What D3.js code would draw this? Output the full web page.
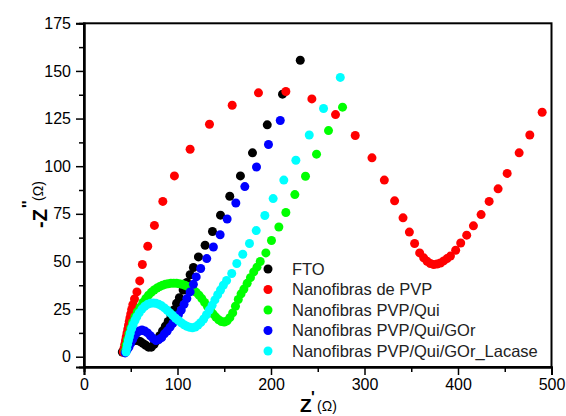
<!DOCTYPE html>
<html><head><meta charset="utf-8">
<script src="https://cdn.jsdelivr.net/npm/d3@7"></script>
<style>body{margin:0;background:#fff}svg{display:block}text{font-family:"Liberation Sans",Arial,sans-serif}</style>
</head><body><svg id="c" width="566" height="416"></svg>
<script>
const seriesNames=["FTO","Nanofibras de PVP","Nanofibras PVP/Qui","Nanofibras PVP/Qui/GOr","Nanofibras PVP/Qui/GOr_Lacase"];
const seriesColors=["#000000","#ff0000","#00ff00","#0000ff","#00ffff"];
const xTicks=[0,100,200,300,400,500];
const yTicks=[0,25,50,75,100,125,150,175];
const fto=[[41,2.5],[43,4],[45,5.5],[48,7],[51,8],[54,8.5],[57,8.5],[60,8],[63,7],[66,6],[69,5],[72,5],[75,6.5],[78,8.5],[81,11],[84,13.5],[87,16],[90,18.5],[93,21.5],[96,24.5],[99,28],[102,31],[106,35],[110,39],[113.5,43],[117,46.8],[122.4,52.4],[129.5,58.5],[137.4,65.7],[146,74.3],[155.9,84.2],[167.3,94.9],[180.2,107],[196,121.7],[212.3,137.8],[231.3,155.6]];
const pvp=[[42,2.5],[42.8,4.5],[43.6,6.5],[44.4,8.5],[45.2,10.5],[46,12.5],[46.8,14.5],[47.6,16.5],[48.4,18.5],[49.2,20.5],[50,22.5],[51,24.8],[52.2,27.3],[54,30.3],[56.6,34],[59.6,39.8],[62.4,48.4],[68.2,58],[75.3,68.9],[84.3,81.5],[96.7,94.9],[113.5,108.9],[134.2,122],[158.5,132],[186.6,138.5],[215.9,139.2],[243.7,135.3],[269,127.1],[290.1,116.1],[308,104.4],[321.2,92.7],[332.2,81.8],[341.2,72.9],[348,65.4],[353.6,59.4],[359,54.5],[363.3,51.9],[366.9,50.1],[370.4,48.9],[374,48.4],[377.6,48.6],[381.2,49.2],[384.7,50.3],[388.3,51.5],[391.9,52.8],[397.5,55.9],[402.9,59.7],[409.3,63.8],[416.5,68.7],[424.7,74.6],[433.3,81.5],[442.9,88.1],[452.6,96.2],[465.4,107],[476.8,116.4],[490,128.3]];
const qui=[[44,3],[45,6],[46.5,9],[48,12],[50,15],[52,18],[54.5,21],[57,23.5],[60,26],[63,28.5],[66,30.5],[69,32.3],[72,33.8],[75,35],[78,36],[81,36.8],[84,37.5],[87,38],[90,38.3],[93,38.5],[96,38.6],[99,38.5],[102,38.3],[105,38],[108,37.5],[111,36.8],[114,36],[117,35],[120,33.8],[123,32.3],[126,30.5],[129,28.5],[132,26.5],[135,24.5],[138,22.5],[141,20.8],[144,19.4],[147,18.5],[150,18.2],[153,18.8],[156,20.5],[159,23],[162,26.5],[165,30],[168,33],[171,35.5],[174.5,38.5],[178,41.5],[181.5,44.5],[185,47],[188.5,50],[194.5,54.5],[200.5,61],[208.4,68.1],[215.9,75.7],[225.5,85.1],[236.9,94.7],[248.7,106.3],[261.5,118.7],[276.5,131]];
const gor=[[44,2],[46,3.5],[48,5],[50,7],[52,9],[54,11],[56.5,12.5],[59,13.5],[62,14],[65,13.5],[68,12.5],[71,11],[74,9.5],[77,8.5],[80,9],[83,10],[86,12],[89,13.5],[92,15.5],[95,17.5],[98,19.5],[101,22],[104,24.5],[107,27.5],[110,30.5],[113.5,34],[117,38],[120,41.9],[124.8,46.3],[131.3,51.5],[138.4,57.6],[145.6,64],[153.1,72.3],[162.4,80.7],[172,89.3],[184.5,99.6],[197.3,111.4],[209.9,124]];
const lacase=[[45,2.5],[45.8,4.5],[46.6,6.5],[47.5,8.5],[48.5,10.5],[49.5,12.5],[51,14.8],[52.5,16.8],[54.5,19],[56.5,21],[59,23],[62,25],[65,26.5],[68,27.5],[71,28],[74,28.2],[77,28],[80,27.5],[83,26.7],[86,25.6],[89,24.4],[92,23],[95,21.6],[98,20.2],[101,19],[104,17.8],[107,16.8],[110,16],[113,15.4],[116,15.2],[119,15.6],[122,16.6],[125,18],[128,19.8],[131,22],[134,24.5],[137,27],[140,29.8],[143,32.5],[146,35],[149,37.5],[152.5,40],[158,43.7],[163.4,48.9],[169.8,53.8],[177,59.4],[184.2,66.2],[193.4,74.1],[202.3,83],[213.7,92.7],[226.6,103.1],[240.9,116.4],[256.2,130.3],[274.1,146.6]];
const allSeries=[fto,pvp,qui,gor,lacase];

const svg=d3.select("#c");
const L=84,R=551.5,T=23.3,B=367;
const x=d3.scaleLinear().domain([0,500]).range([L,R]);
const y=d3.scaleLinear().domain([-5.4,175]).range([B,T]);

// frame
svg.append("rect").attr("x",L).attr("y",T).attr("width",R-L).attr("height",B-T)
  .attr("fill","none").attr("stroke","#000").attr("stroke-width",2);

// axes
const xMinor=d3.range(50,500,100);
const yMinor=d3.range(12.5,175,25);
const gx=svg.append("g").attr("transform",`translate(0,${B})`);
gx.call(d3.axisBottom(x).tickValues(xTicks).tickSize(8).tickPadding(4).tickFormat(d3.format("d")));
gx.append("g").call(d3.axisBottom(x).tickValues(xMinor).tickSize(5).tickFormat(""));
const gy=svg.append("g").attr("transform",`translate(${L},0)`);
gy.call(d3.axisLeft(y).tickValues(yTicks).tickSize(8).tickPadding(5).tickFormat(d3.format("d")));
gy.append("g").call(d3.axisLeft(y).tickValues(yMinor).tickSize(5).tickFormat(""));
svg.selectAll(".domain").attr("stroke","#000").attr("stroke-width",2);
svg.selectAll(".tick line").attr("stroke","#000").attr("stroke-width",1.5);
svg.selectAll(".tick text").attr("font-size",16).attr("font-family","Liberation Sans, Arial, sans-serif").attr("fill","#000");

// points
allSeries.forEach((s,i)=>{
  svg.append("g").selectAll("circle").data(s).join("circle")
    .attr("cx",d=>x(d[0])).attr("cy",d=>y(d[1])).attr("r",4.5).attr("fill",seriesColors[i]);
});

// legend
const lg=svg.append("g");
seriesNames.forEach((n,i)=>{
  const cy=269+i*20.5;
  lg.append("circle").attr("cx",268).attr("cy",cy).attr("r",4.5).attr("fill",seriesColors[i]);
  lg.append("text").attr("x",292).attr("y",cy).attr("dy","0.36em").attr("font-size",16.5).attr("fill","#222").text(n);
});

// axis titles
svg.append("text").attr("x",300).attr("y",412).attr("font-size",19).attr("font-weight","bold").text("Z");
svg.append("text").attr("x",311).attr("y",403).attr("font-size",16).attr("font-weight","bold").text("'");
svg.append("text").attr("x",317).attr("y",411).attr("font-size",14).text("(Ω)");
const yt=svg.append("g").attr("transform","translate(47,228) rotate(-90)");
yt.append("text").attr("x",0).attr("y",0).attr("font-size",20).attr("font-weight","bold").text("-Z");
yt.append("text").attr("x",20).attr("y",-13).attr("font-size",16).attr("font-weight","bold").text("''");
yt.append("text").attr("x",27).attr("y",-4).attr("font-size",14).text("(Ω)");
</script></body></html>
